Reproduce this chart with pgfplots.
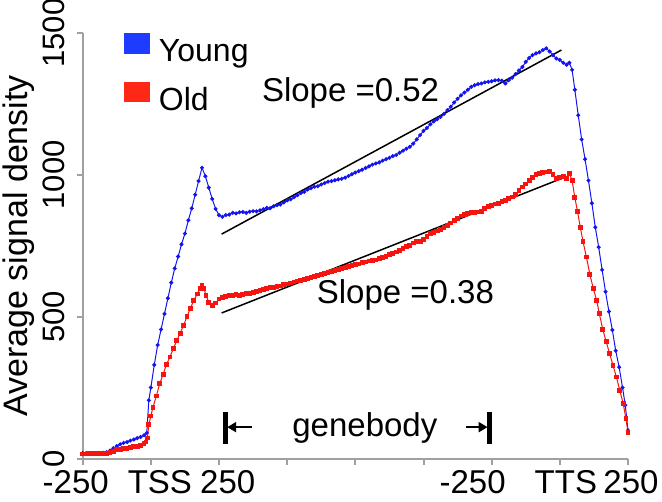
\documentclass[border=0pt]{standalone}
\usepackage{fontspec}
\setmainfont{Liberation Sans}
\usepackage{pgfplots}
\usepackage{pgfplotstable}
\pgfplotsset{compat=1.18}
\usetikzlibrary{arrows.meta}
\definecolor{youngline}{RGB}{20,20,240}
\definecolor{oldline}{RGB}{245,20,15}
\definecolor{youngleg}{RGB}{30,60,255}
\definecolor{oldleg}{RGB}{255,40,20}
\definecolor{axgray}{RGB}{160,160,160}

\pgfplotstableread{
x y
0 19
5 19
10 18
15 17
20 18
25 19
30 20
35 22
40 28
45 36
50 44
55 50
60 55
65 58
70 63
75 67
80 72
85 76
90 82
94 90
97 205
100 250
105 330
110 400
115 455
120 510
125 565
130 620
135 670
140 712
145 755
150 793
155 840
160 882
165 930
170 978
175 1025
180 995
185 955
190 915
195 880
200 858
205 852
210 858
215 860
220 866
225 864
230 868
235 869
240 866
245 870
250 872
255 871
260 875
265 879
270 884
275 882
280 889
285 893
290 895
295 903
300 910
305 914
310 921
315 928
320 936
325 940
330 948
335 953
340 958
345 960
350 966
355 971
360 976
365 978
370 981
375 984
380 986
385 990
390 996
395 1002
400 1008
405 1013
410 1018
415 1024
420 1030
425 1036
430 1040
435 1044
440 1050
445 1055
450 1060
455 1066
460 1070
465 1078
470 1085
475 1092
480 1099
485 1110
490 1125
495 1140
500 1155
505 1165
510 1178
515 1188
520 1196
525 1204
530 1215
535 1228
540 1240
545 1255
550 1268
555 1280
560 1290
565 1300
570 1310
575 1316
580 1320
585 1322
590 1326
595 1328
600 1330
605 1333
610 1334
615 1332
620 1322
625 1334
630 1342
635 1355
640 1368
645 1380
650 1398
655 1412
660 1422
665 1428
670 1432
675 1440
680 1446
685 1435
690 1422
695 1410
700 1405
705 1395
710 1388
714 1395
718 1370
722 1300
727 1210
732 1125
737 1055
742 980
747 900
752 815
757 745
762 665
767 588
772 518
777 453
782 380
787 322
792 250
796 188
800 99
}\young

\pgfplotstableread{
x y
0 16
5 16
10 17
15 17
20 18
25 18
30 19
35 19
40 20
45 25
50 31
55 33
60 35
65 36
70 39
75 41
80 43
85 45
90 52
93 58
95 72
97 120
100 150
103 180
108 220
113 264
118 297
123 332
128 358
133 388
138 415
143 442
148 470
153 500
158 530
163 557
168 580
172 598
175 611
178 598
181 575
185 550
190 540
195 548
200 562
205 568
210 571
215 574
220 575
225 577
230 576
235 579
240 582
245 583
250 586
255 590
260 593
265 595
270 598
275 602
280 604
285 605
290 608
295 612
300 615
305 619
310 622
315 626
320 628
325 631
330 634
335 638
340 642
345 646
350 648
355 652
360 655
365 658
370 662
375 666
380 670
385 673
390 676
395 679
400 683
405 686
410 690
415 693
420 696
425 698
430 700
435 704
440 708
445 712
450 718
455 722
460 728
465 734
470 740
475 747
480 752
485 760
490 764
495 765
500 772
505 782
510 792
515 797
520 802
525 808
530 815
535 822
540 830
545 838
550 846
555 855
560 860
565 864
570 866
575 868
580 869
585 872
590 880
595 888
600 893
605 897
610 899
615 905
620 910
625 916
630 922
635 932
640 945
645 957
650 968
655 980
660 992
665 1000
670 1005
675 1008
680 1010
685 1011
690 1000
695 987
700 990
705 993
710 988
714 1005
718 980
722 920
726 870
730 815
734 765
739 710
744 650
749 600
754 558
758 510
763 455
768 412
773 370
778 328
783 287
788 240
793 193
797 140
800 93
}\old

\begin{document}
\begin{tikzpicture}
\useasboundingbox (-41.35bp,-21.75bp) rectangle (289.65bp,229.25bp);
\begin{axis}[
  scale only axis,
  width=272.65bp, height=212.75bp,
  at={(0,0)}, anchor=south west,
  xmin=0, xmax=800, ymin=0, ymax=1500,
  clip=false,
  axis lines=left,
  axis line style={-, draw=axgray, line width=1bp},
  tick style={draw=axgray, line width=1bp},
  major tick length=3bp,
  tick align=outside,
  xtick={0,100,...,800},
  xticklabels={{-250\hspace*{7bp}}, {\hspace*{9bp}TSS}, {\hspace*{8.7bp}250}, {}, {}, {}, {-250\hspace*{19bp}}, {\hspace*{6bp}TTS}, {\hspace*{3bp}250}},
  ytick={0,500,1000,1500},
  /pgf/number format/assume math mode=true,
  /pgf/number format/1000 sep={},
  xticklabel style={anchor=north, inner sep=0pt, outer sep=0pt, yshift=-3.1bp, font=\fontsize{16.5bp}{19bp}\selectfont},
  yticklabel style={xshift=-6bp, rotate=90, anchor=south, inner sep=0pt, outer sep=0pt, font=\fontsize{15.5bp}{18bp}\selectfont},
  every axis y label/.style={at={(axis description cs:-0.118,0.5)}, rotate=90, anchor=center, font=\fontsize{17bp}{20bp}\selectfont},
  ylabel={Average signal density},
  legend cell align=left,
  legend style={at={(axis description cs:0.0757,1)}, anchor=north west, draw=none, fill=none,
    inner sep=0pt, outer sep=0pt, row sep=6.65bp,
    font=\fontsize{16bp}{19bp}\selectfont,
    nodes={inner sep=0pt, text height=12bp, text depth=3.5bp},
    /tikz/column 1/.style={column sep=4.5bp}},
]
\addplot[youngline, line width=0.5bp, mark=*, mark size=0.75bp,
  legend image code/.code={\fill[youngleg] (0bp,0bp) rectangle (12.5bp,10bp);}]
  table[x=x,y=y] {\young};
\addlegendentry{Young}
\addplot[oldline, line width=0.5bp, mark=square*, mark size=0.95bp,
  legend image code/.code={\fill[oldleg] (0bp,0.25bp) rectangle (12.5bp,9.75bp);}]
  table[x=x,y=y] {\old};
\addlegendentry{Old}
\addplot[black, line width=0.75bp, forget plot] coordinates {(203.8,791) (702.4,1440)};
\addplot[black, line width=0.75bp, forget plot] coordinates {(203.8,513) (702.4,987)};
\node[anchor=base west, inner sep=0pt, font=\fontsize{16.5bp}{20bp}\selectfont] at (axis cs:262.5,1258) {Slope =0.52};
\node[anchor=base west, inner sep=0pt, font=\fontsize{16.5bp}{20bp}\selectfont] at (axis cs:343,546) {Slope =0.38};
\node[anchor=base west, inner sep=0pt, font=\fontsize{16.5bp}{20bp}\selectfont] at (axis cs:307,78) {genebody};
\draw[line width=2.4bp] (axis cs:209.4,52) -- (axis cs:209.4,163);
\draw[line width=2.6bp] (axis cs:596.8,52) -- (axis cs:596.8,163);
\draw[line width=1bp, -{Triangle[length=4.5bp,width=5bp]}] (axis cs:248,110.5) -- (axis cs:212,110.5);
\draw[line width=1bp, -{Triangle[length=4.5bp,width=5bp]}] (axis cs:562,110.5) -- (axis cs:594,110.5);
\end{axis}
\end{tikzpicture}
\end{document}
